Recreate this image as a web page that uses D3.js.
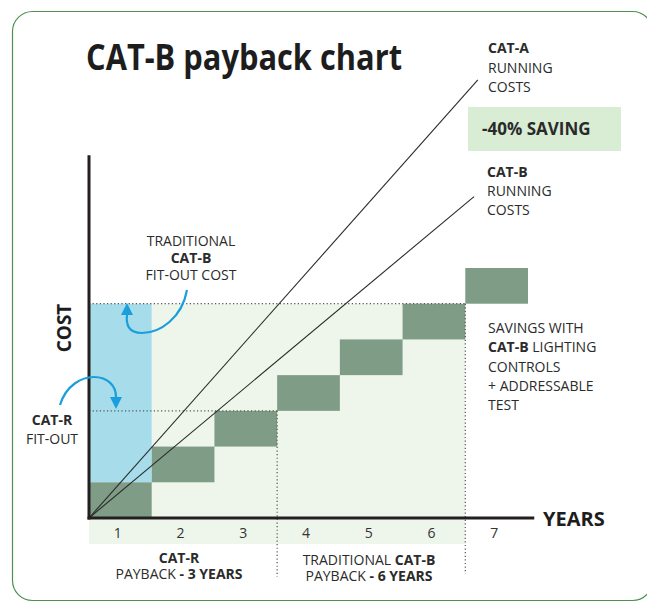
<!DOCTYPE html>
<html>
<head>
<meta charset="utf-8">
<script src="https://cdn.jsdelivr.net/npm/d3@7"></script>
<style>
    body { margin: 0; background: #fff; }
    text { font-family: 'Open Sans', 'Noto Sans', sans-serif; fill: #2b2b2b; }
</style>
</head>
<body>
<div id="chart"></div>
<script>
'use strict'

// Chart values (cost in step units, time in years).
const years = [1, 2, 3, 4, 5, 6, 7];
const cumulativeSaving = [1, 2, 3, 4, 5, 6, 7];
const catRFitOut = 3;
const catBFitOut = 6;
const catRPayback = 3;
const catBPayback = 6;
const catARunning = [{year: 0, cost: 0}, {year: 6.2, cost: 12.27}];
const catBRunning = [{year: 0, cost: 0}, {year: 6.14, cost: 9.0}];

let width = 647,
    height = 603;

let svg = d3.select('#chart')
    .append('svg')
        .attr('width', width)
        .attr('height', height);

let x = d3.scaleLinear().domain([0, 7]).range([89, 528]);
let y = d3.scaleLinear().domain([0, 7]).range([518, 268]);
let xBand = d3.scaleBand().domain(years).range([x(0), x(7)]);

const colors = {
    step: '#7f9c86',
    pale: '#eef6ec',
    blue: '#a7dcea',
    arrow: '#1a9fdc',
    axis: '#231f20',
    dots: '#555'
};

// Frame.
svg.append('rect')
    .attr('x', 12.5).attr('y', 11.5)
    .attr('width', 640).attr('height', 589)
    .attr('rx', 20)
    .attr('fill', 'none')
    .attr('stroke', '#4c9150')
    .attr('stroke-width', 1.2);

// Title.
svg.append('text')
    .attr('x', 86).attr('y', 70)
    .attr('font-size', 35)
    .attr('font-weight', 700)
    .attr('textLength', 316)
    .attr('lengthAdjust', 'spacingAndGlyphs')
    .style('fill', '#1d1d1d')
    .text('CAT-B payback chart');

// Pale payback area and band under axis.
svg.append('rect')
    .attr('x', x(1)).attr('y', y(catBFitOut))
    .attr('width', x(catBPayback) - x(1))
    .attr('height', y(0) - y(catBFitOut))
    .attr('fill', colors.pale);

svg.append('rect')
    .attr('x', x(0)).attr('y', y(0) + 1)
    .attr('width', x(catBPayback) - x(0))
    .attr('height', 25)
    .attr('fill', colors.pale);

// Traditional fit-out cost column.
svg.append('rect')
    .attr('x', x(0)).attr('y', y(catBFitOut))
    .attr('width', x(1) - x(0))
    .attr('height', y(cumulativeSaving[0]) - y(catBFitOut))
    .attr('fill', colors.blue);

// Savings steps.
svg.selectAll('rect.step')
    .data(cumulativeSaving)
    .join('rect')
        .attr('class', 'step')
        .attr('x', (d, i) => x(years[i] - 1))
        .attr('y', d => y(d))
        .attr('width', (d, i) => x(years[i]) - x(years[i] - 1))
        .attr('height', d => y(d - 1) - y(d))
        .attr('fill', colors.step);

// Dotted guides.
let dotted = [
    [[0, catRFitOut], [catRPayback, catRFitOut]],
    [[0, catBFitOut], [catBPayback, catBFitOut]]
];
svg.selectAll('line.guide')
    .data(dotted)
    .join('line')
        .attr('class', 'guide')
        .attr('x1', d => x(d[0][0])).attr('y1', d => y(d[0][1]))
        .attr('x2', d => x(d[1][0])).attr('y2', d => y(d[1][1]))
        .attr('stroke', colors.dots)
        .attr('stroke-width', 1.2)
        .attr('stroke-dasharray', '1.2,2.4');

svg.selectAll('line.vguide')
    .data([[catRPayback, catRFitOut, 577], [catBPayback, catBFitOut, 574]])
    .join('line')
        .attr('class', 'vguide')
        .attr('x1', d => x(d[0])).attr('y1', d => y(d[1]))
        .attr('x2', d => x(d[0])).attr('y2', d => d[2])
        .attr('stroke', colors.dots)
        .attr('stroke-width', 1.2)
        .attr('stroke-dasharray', '1.2,2.4');

// Running cost lines.
let line = d3.line().x(d => x(d.year)).y(d => y(d.cost));
svg.selectAll('path.running')
    .data([catARunning, catBRunning])
    .join('path')
        .attr('class', 'running')
        .attr('d', line)
        .attr('fill', 'none')
        .attr('stroke', '#2a2a2a')
        .attr('stroke-width', 1.1);

// Axes.
svg.append('line')
    .attr('x1', x(0)).attr('y1', y(10.16))
    .attr('x2', x(0)).attr('y2', y(0) + 1.5)
    .attr('stroke', colors.axis).attr('stroke-width', 3);
svg.append('line')
    .attr('x1', x(0) - 1.5).attr('y1', y(0))
    .attr('x2', x(7.1)).attr('y2', y(0))
    .attr('stroke', colors.axis).attr('stroke-width', 3);

let xAxis = svg.append('g')
    .attr('transform', `translate(-2.5, ${y(0) + 20})`)
    .call(d3.axisBottom(xBand).tickSize(0).tickPadding(0));
xAxis.select('.domain').remove();
xAxis.selectAll('text')
    .attr('dy', 0)
    .attr('font-size', 14)
    .style('font-family', "'Open Sans', sans-serif")
    .style('fill', '#333');

svg.append('text')
    .attr('x', 543).attr('y', 526)
    .attr('font-size', 20).attr('font-weight', 700)
    .style('fill', '#1d1d1d')
    .text('YEARS');

svg.append('text')
    .attr('transform', 'translate(71, 328) rotate(-90)')
    .attr('text-anchor', 'middle')
    .attr('font-size', 19).attr('font-weight', 700)
    .style('fill', '#1d1d1d')
    .text('COST');

// Multi-line labels: each line is a list of [text, bold] parts.
function label(px, py, lines, anchor, lh, size) {
    let t = svg.append('text')
        .attr('x', px).attr('y', py)
        .attr('text-anchor', anchor)
        .attr('font-size', size || 14);
    lines.forEach((parts, i) => {
        parts.forEach((p, j) => {
            let s = t.append('tspan').text(p[0]).attr('font-weight', p[1] ? 700 : 400);
            if (j === 0) s.attr('x', px).attr('dy', i === 0 ? 0 : lh);
        });
    });
    return t;
}

label(488, 53, [[['CAT-A', 1]], [['RUNNING', 0]], [['COSTS', 0]]], 'start', 19.5);
label(487, 177, [[['CAT-B', 1]], [['RUNNING', 0]], [['COSTS', 0]]], 'start', 19);
label(191, 246, [[['TRADITIONAL', 0]], [['CAT-B', 1]], [['FIT-OUT COST', 0]]], 'middle', 16.8);
label(52, 425, [[['CAT-R', 1]], [['FIT-OUT', 0]]], 'middle', 18.5);
label(488, 333, [[['SAVINGS WITH', 0]], [['CAT-B', 1], [' LIGHTING', 0]], [['CONTROLS', 0]],
    [['+ ADDRESSABLE', 0]], [['TEST', 0]]], 'start', 19.3);
label(179, 563, [[['CAT-R', 1]], [['PAYBACK', 0], [' - 3 YEARS', 1]]], 'middle', 15.6);
label(369, 565, [[['TRADITIONAL ', 0], ['CAT-B', 1]], [['PAYBACK', 0], [' - 6 YEARS', 1]]], 'middle', 15.8);

// Saving badge.
svg.append('rect')
    .attr('x', 468).attr('y', 107)
    .attr('width', 153).attr('height', 44)
    .attr('fill', '#d9ecd4');
svg.append('text')
    .attr('x', 482).attr('y', 135)
    .attr('font-size', 17).attr('font-weight', 700)
    .style('fill', '#2a2a2a')
    .text('-40% SAVING');

// Blue arrows.
let arrows = [
    {path: 'M187,290 C182,318 160,333 142,333 C128,333 126,324 127,315', tip: [127, 303]},
    {path: 'M60,405 C66,385 82,377 94,377 C108,377 116,386 116,397', tip: [116, 409]}
];
svg.selectAll('path.arrow')
    .data(arrows)
    .join('path')
        .attr('class', 'arrow')
        .attr('d', d => d.path)
        .attr('fill', 'none')
        .attr('stroke', colors.arrow)
        .attr('stroke-width', 2.2);
svg.selectAll('path.head')
    .data(arrows)
    .join('path')
        .attr('class', 'head')
        .attr('d', (d, i) => i === 0
            ? `M${d.tip[0]},${d.tip[1]} L${d.tip[0] - 6},${d.tip[1] + 12} L${d.tip[0] + 6},${d.tip[1] + 12} Z`
            : `M${d.tip[0]},${d.tip[1]} L${d.tip[0] - 6},${d.tip[1] - 12} L${d.tip[0] + 6},${d.tip[1] - 12} Z`)
        .attr('fill', colors.arrow);
</script>
</body>
</html>
